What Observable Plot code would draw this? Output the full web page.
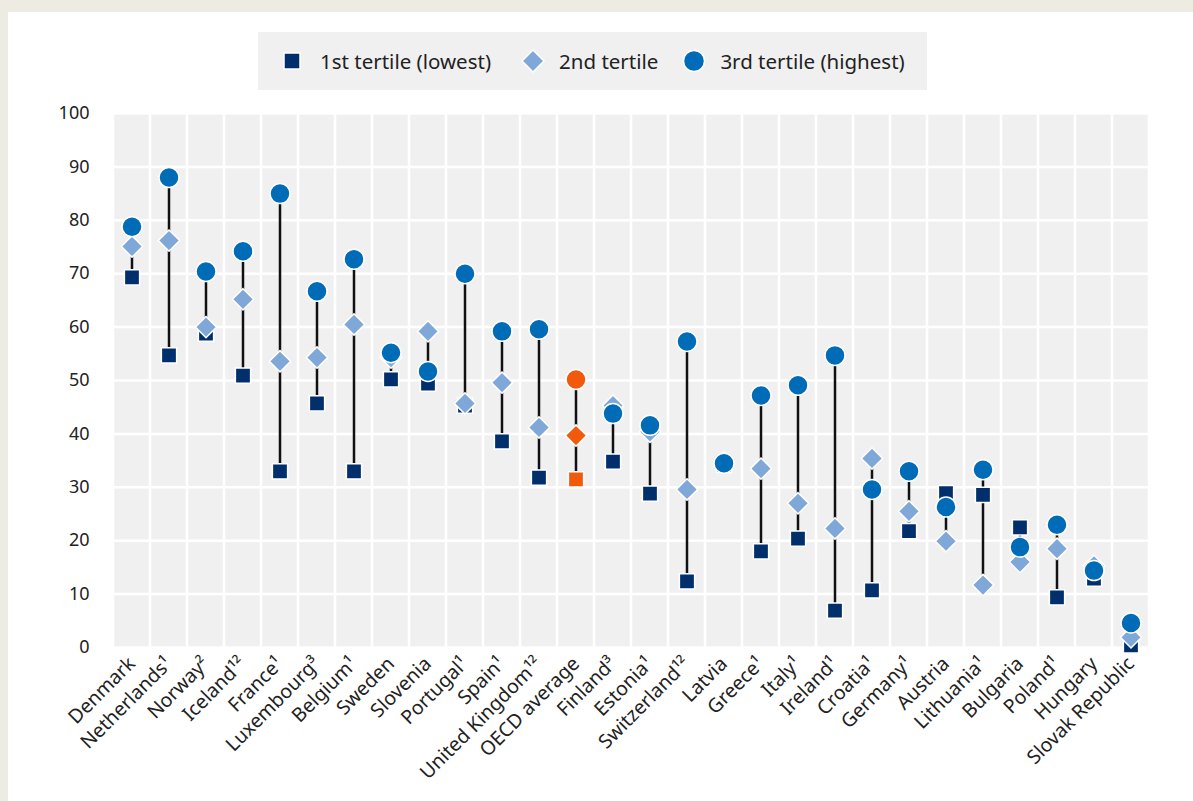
<!DOCTYPE html>
<html>
<head>
<meta charset="utf-8">
<script src="https://cdn.jsdelivr.net/npm/d3@7"></script>
<script src="https://cdn.jsdelivr.net/npm/@observablehq/plot@0.6"></script>
<style>
  html, body { margin: 0; padding: 0; }
  body { width: 1193px; height: 801px; background: #EDEBE2; overflow: hidden; font-family: "Noto Sans", "Open Sans", sans-serif; }
  #panel { position: absolute; left: 8px; top: 12px; width: 1185px; height: 789px; background: #fff; }
  #legend { position: absolute; left: 250px; top: 20px; width: 669px; height: 58px; background: #F0F0F0;
            display: flex; align-items: center; font-size: 20.5px; color: #222; }
  #legend .item { display: flex; align-items: center; }
  #legend svg { display: block; }
  #chart { position: absolute; left: 0; top: 83px; }
</style>
</head>
<body>
<div id="panel">
  <div id="legend"></div>
  <div id="chart"></div>
</div>
<script>
const countries = ["Denmark","Netherlands¹","Norway²","Iceland¹²","France¹","Luxembourg³","Belgium¹","Sweden","Slovenia","Portugal¹","Spain¹","United Kingdom¹²","OECD average","Finland³","Estonia¹","Switzerland¹²","Latvia","Greece¹","Italy¹","Ireland¹","Croatia¹","Germany¹","Austria","Lithuania¹","Bulgaria","Poland¹","Hungary","Slovak Republic"];
const tertile1 = [69.3,54.7,58.8,50.9,33.0,45.7,33.0,50.2,49.4,45.3,38.6,31.8,31.5,34.8,28.8,12.4,34.2,18.0,20.4,6.9,10.7,21.8,28.9,28.6,22.5,9.4,12.9,0.4];
const tertile2 = [75.1,76.2,60.0,65.2,53.6,54.3,60.5,54.3,59.2,45.7,49.6,41.2,39.7,45.3,40.4,29.6,34.7,33.5,27.0,22.3,35.4,25.5,19.9,11.7,16.0,18.5,15.3,1.9];
const tertile3 = [78.8,88.0,70.4,74.2,85.0,66.7,72.7,55.2,51.7,70.0,59.2,59.6,50.2,43.8,41.6,57.3,34.5,47.2,49.1,54.7,29.6,33.0,26.3,33.3,18.8,23.0,14.4,4.6];
const seriesNames = ["1st tertile (lowest)","2nd tertile","3rd tertile (highest)"];
const yTicks = [0,10,20,30,40,50,60,70,80,90,100];

const colors = {t1: "#002F6C", t2: "#7FA8D9", t3: "#006BB6", oecd: "#F25A0B"};
const isOECD = c => c === "OECD average";

const rows = countries.map((c, i) => ({
  country: c, t1: tertile1[i], t2: tertile2[i], t3: tertile3[i],
  lo: Math.min(tertile1[i], tertile2[i], tertile3[i]),
  hi: Math.max(tertile1[i], tertile2[i], tertile3[i])
}));

const font = '"Noto Sans", "Open Sans", sans-serif';

const chart = Plot.plot({
  width: 1185,
  height: 702,
  marginLeft: 101,
  marginRight: 41,
  marginTop: 18,
  marginBottom: 150,
  style: {fontFamily: font, color: "#222", background: "transparent", overflow: "visible"},
  x: {type: "band", domain: countries, padding: 0, label: null},
  y: {domain: [0, 100], label: null},
  marks: [
    Plot.barY(rows, {x: "country", y1: 0, y2: 100, fill: "#F0F0F0", insetLeft: 1.3, insetRight: 1.3}),
    Plot.ruleY(yTicks, {stroke: "#fff", strokeWidth: 2.5}),
    Plot.axisY({ticks: yTicks, tickSize: 0, tickPadding: 20, fontSize: 18, label: null}),
    Plot.axisX({tickSize: 0, tickPadding: 13, tickRotate: -45, fontSize: 19.5, label: null}),
    Plot.ruleX(rows, {x: "country", y1: "lo", y2: "hi", stroke: "#111", strokeWidth: 2.5}),
    Plot.dot(rows, {x: "country", y: "t1", symbol: "square", r: 8.6,
      fill: d => isOECD(d.country) ? colors.oecd : colors.t1, stroke: "#fff", strokeWidth: 1.5}),
    Plot.dot(rows, {x: "country", y: "t2", symbol: "diamond2", r: 9.6,
      fill: d => isOECD(d.country) ? colors.oecd : colors.t2, stroke: "#fff", strokeWidth: 1.5}),
    Plot.dot(rows, {x: "country", y: "t3", symbol: "circle", r: 10,
      fill: d => isOECD(d.country) ? colors.oecd : colors.t3, stroke: "#fff", strokeWidth: 1.5})
  ]
});
document.getElementById("chart").appendChild(chart);

// Legend
const legend = d3.select("#legend");
const symbols = [
  {name: seriesNames[0], fill: colors.t1, shape: "square"},
  {name: seriesNames[1], fill: colors.t2, shape: "diamond"},
  {name: seriesNames[2], fill: colors.t3, shape: "circle"}
];
const gaps = [22, 30, 24];
symbols.forEach((s, i) => {
  const item = legend.append("div").attr("class", "item").style("margin-left", gaps[i] + "px");
  const svg = item.append("svg").attr("width", 24).attr("height", 24);
  if (s.shape === "square") {
    svg.append("rect").attr("x", 4).attr("y", 4).attr("width", 16).attr("height", 16)
      .attr("fill", s.fill).attr("stroke", "#fff").attr("stroke-width", 1.5);
  } else if (s.shape === "diamond") {
    svg.append("path").attr("d", "M12,1L23,12L12,23L1,12Z")
      .attr("fill", s.fill).attr("stroke", "#fff").attr("stroke-width", 1.5);
  } else {
    svg.append("circle").attr("cx", 12).attr("cy", 12).attr("r", 10.5)
      .attr("fill", s.fill).attr("stroke", "#fff").attr("stroke-width", 1.5);
  }
  item.append("span").style("margin-left", i === 0 ? "16px" : "14px").text(s.name);
});
</script>
</body>
</html>
